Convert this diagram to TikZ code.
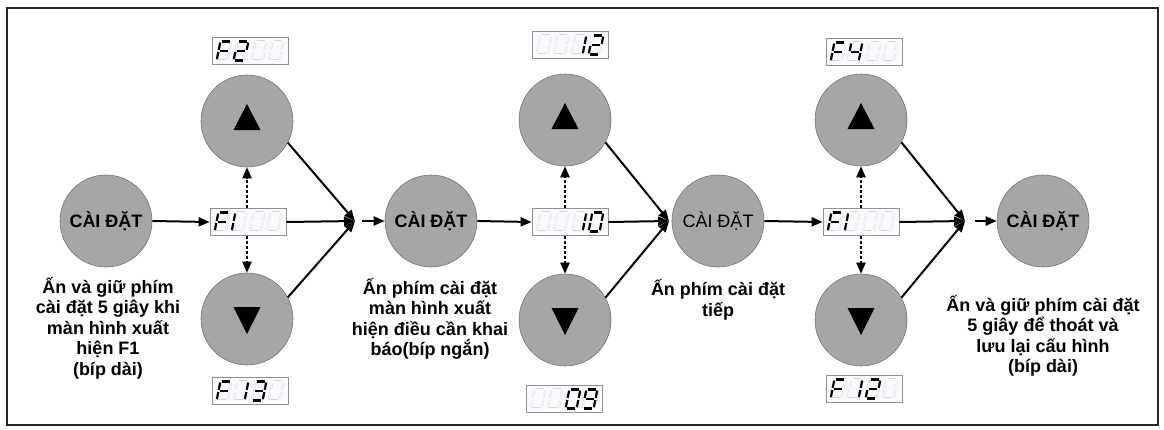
\documentclass[tikz,border=0pt]{standalone}
\usepackage{fontspec}
\setmainfont{Liberation Sans}
\usetikzlibrary{arrows.meta,calc}
\definecolor{btn}{RGB}{166,166,166}
\definecolor{btnedge}{RGB}{115,115,115}
\definecolor{ghost}{RGB}{208,213,230}
\definecolor{dispedge}{RGB}{145,145,145}
\definecolor{dispfill}{RGB}{250,250,253}
\tikzset{
 btn/.style={circle, fill=btn, draw=btnedge, line width=0.6pt, minimum size=92pt, inner sep=0pt, font=\fontsize{18}{20}\selectfont\bfseries},
 disp/.style={rectangle, draw=dispedge, fill=dispfill, line width=0.8pt, minimum width=76pt, minimum height=27pt, inner sep=0pt},
 arr/.style={line width=2pt, -{Triangle[length=11pt,width=9pt]}},
 dotarr/.style={arr, dash pattern=on 3pt off 2pt},
 desc/.style={align=center, font=\fontsize{18}{20.5}\selectfont\bfseries, inner sep=0pt},
 seg1/.style={draw=black, line width=2.2pt},
 seg0/.style={draw=ghost, line width=0.4pt, double=dispfill, double distance=1.2pt},
}
% slanted seven-segment digit, local y grows downward (picture units)
\def\segs#1#2#3#4#5#6#7\relax{%
 \path[seg#1] (5.1,-19)--(13.5,-19);
 \path[seg#2] (14.56,-17.8)--(13.12,-10.6);
 \path[seg#3] (12.68,-8.4)--(11.24,-1.2);
 \path[seg#4] (1.3,0)--(9.7,0);
 \path[seg#5] (0.24,-1.2)--(1.68,-8.4);
 \path[seg#6] (2.12,-10.6)--(3.56,-17.8);
 \path[seg#7] (3.2,-9.5)--(11.6,-9.5);}
\newcommand\segdigit[2]{\begin{scope}[xshift=#1pt, yshift=4.5pt]\expandafter\segs#2\relax\end{scope}}
\newcommand\segdisp[5]{%
 \begin{scope}[shift={(#1.south west)}]
  \segdigit{5}{#2}\segdigit{22}{#3}\segdigit{40}{#4}\segdigit{57}{#5}
 \end{scope}}
\def\dF{1000111}
\def\dII{1101101}
\def\dIII{1111001}
\def\dIV{0110011}
\def\dO{1111110}
\def\dIX{1111011}
\def\dIr{0110000}
\def\dIl{0000110}
\def\dB{0000000}
\newcommand\uptri[1]{\fill[shift={(#1.center)}] (-13.5,9) -- (13.5,9) -- (0,-17) -- cycle;}
\newcommand\dntri[1]{\fill[shift={(#1.center)}] (-13.5,-12) -- (13.5,-12) -- (0,15) -- cycle;}
\begin{document}
\begin{tikzpicture}[x=1pt,y=-1pt]
\useasboundingbox (0,0) rectangle (1164,429);
\draw[line width=2.5pt, black!85] (7,8) rectangle (1158,425);

% group 1
\node[btn] (C1) at (106,221) {CÀI ĐẶT};
\node[btn] (up1) at (247,121) {};
\node[btn] (down1) at (247,319) {};
\uptri{up1}\dntri{down1}
\node[disp] (dF2) at (250,51) {};
\node[disp] (dF1) at (248,222) {};
\node[disp] (dF13) at (250,391) {};
\segdisp{dF2}{\dF}{\dII}{\dB}{\dB}
\segdisp{dF1}{\dF}{\dIl}{\dB}{\dB}
\segdisp{dF13}{\dF}{\dIr}{\dIII}{\dB}
\coordinate (J1) at (355,221);
\coordinate (J1o) at (362,221);
\node[btn] (C2) at (431,221) {CÀI ĐẶT};

% group 2
\node[btn] (up2) at (565,120) {};
\node[btn] (down2) at (565,320) {};
\uptri{up2}\dntri{down2}
\node[disp] (d12) at (570,45) {};
\node[disp] (d10) at (570,222) {};
\node[disp] (d09) at (564,399) {};
\segdisp{d12}{\dB}{\dB}{\dIr}{\dII}
\segdisp{d10}{\dB}{\dB}{\dIr}{\dO}
\segdisp{d09}{\dB}{\dB}{\dO}{\dIX}
\coordinate (J2) at (669,221);
\node[btn, font=\fontsize{18}{20}\selectfont\mdseries] (C3) at (718,221) {CÀI ĐẶT};

% group 3
\node[btn] (up3) at (861,120) {};
\node[btn] (down3) at (861,320) {};
\uptri{up3}\dntri{down3}
\node[disp] (dF4) at (864,52) {};
\node[disp] (dF1b) at (861,222) {};
\node[disp] (dF12) at (864,389) {};
\segdisp{dF4}{\dF}{\dIV}{\dB}{\dB}
\segdisp{dF1b}{\dF}{\dIl}{\dB}{\dB}
\segdisp{dF12}{\dF}{\dIr}{\dII}{\dB}
\coordinate (J3) at (965,221);
\coordinate (J3o) at (975,221);
\node[btn] (C4) at (1043,221) {CÀI ĐẶT};

% descriptions
\node[desc] (T1) at (108,328) {Ấn và giữ phím\\cài đặt 5 giây khi\\màn hình xuất\\hiện F1\\(bíp dài)};
\node[desc] (T2) at (430,319) {Ấn phím cài đặt\\màn hình xuất\\hiện điều cần khai\\báo(bíp ngắn)};
\node[desc] (T3) at (718,300) {Ấn phím cài đặt\\tiếp};
\node[desc] (T4) at (1043,336) {Ấn và giữ phím cài đặt\\5 giây để thoát và\\lưu lại cấu hình\\(bíp dài)};

% connectors group 1
\draw[arr] (C1.east) -- (dF1.west);
\draw[arr] (dF1.east) -- (J1);
\draw[arr] (up1.-28) -- (J1);
\draw[arr] (down1.28) -- (J1);
\draw[dotarr] (dF1.north -| up1.south) -- (up1.south);
\draw[dotarr] (dF1.south -| down1.north) -- (down1.north);
\draw[arr] (J1o) -- (C2.west);
% group 2
\draw[arr] (C2.east) -- (d10.west);
\draw[arr] (d10.east) -- (J2);
\draw[arr] (up2.-29) -- (J2);
\draw[arr] (down2.29) -- (J2);
\draw[dotarr] (d10.north -| up2.south) -- (up2.south);
\draw[dotarr] (d10.south -| down2.north) -- (down2.north);
% group 3
\draw[arr] (C3.east) -- (dF1b.west);
\draw[arr] (dF1b.east) -- (J3);
\draw[arr] (up3.-29) -- (J3);
\draw[arr] (down3.29) -- (J3);
\draw[dotarr] (dF1b.north -| up3.south) -- (up3.south);
\draw[dotarr] (dF1b.south -| down3.north) -- (down3.north);
\draw[arr] (J3o) -- (C4.west);
\end{tikzpicture}
\end{document}
